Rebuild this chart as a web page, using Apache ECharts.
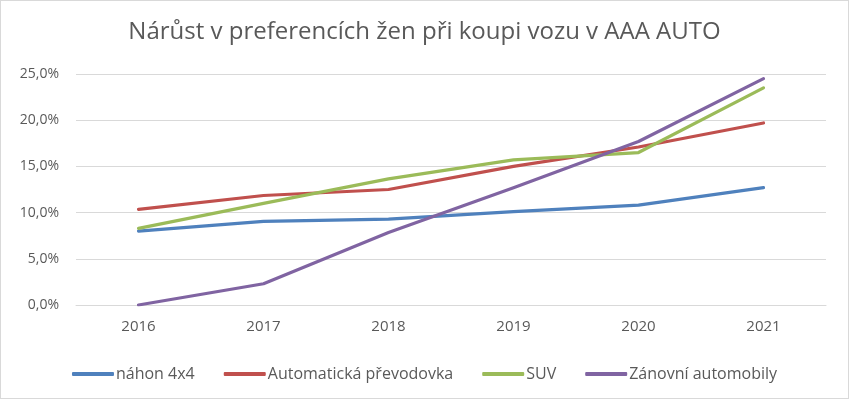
<!DOCTYPE html>
<html>
<head>
<meta charset="utf-8">
<script src="https://cdn.jsdelivr.net/npm/echarts@6/dist/echarts.min.js"></script>
<style>
  html, body { margin: 0; padding: 0; background: #fff; }
  #chart { width: 849px; height: 399px; box-sizing: border-box; border: 1px solid #d9d9d9; }
</style>
</head>
<body>
<div id="chart"></div>
<script>
const years = ['2016', '2017', '2018', '2019', '2020', '2021']
const seriesNames = ['náhon 4x4', 'Automatická převodovka', 'SUV', 'Zánovní automobily']
const nahon = [8.0, 9.05, 9.3, 10.1, 10.8, 12.7]
const automat = [10.35, 11.85, 12.5, 15.0, 17.1, 19.7]
const suv = [8.3, 11.0, 13.65, 15.7, 16.5, 23.5]
const zanovni = [0.0, 2.3, 7.85, 12.7, 17.7, 24.5]
const colors = ['#4f81bd', '#c0504d', '#9bbb59', '#8064a2']

const FONT = 'Open Sans'
const TEXT_COLOR = '#595959'

const chart = echarts.init(document.getElementById('chart'), undefined, { renderer: 'canvas' })

const dataList = [nahon, automat, suv, zanovni]

chart.setOption({
  animation: false,
  backgroundColor: '#fff',
  color: colors,
  title: {
    text: 'Nárůst v preferencích žen při koupi vozu v AAA AUTO',
    left: 'center',
    top: 14,
    textStyle: { fontFamily: FONT, fontSize: 24, fontWeight: 'normal', color: TEXT_COLOR }
  },
  legend: {
    top: 360,
    left: 'center',
    icon: 'roundRect',
    itemWidth: 42,
    itemHeight: 4,
    itemGap: 29,
    textStyle: { fontFamily: FONT, fontSize: 16, color: TEXT_COLOR, padding: [0, 0, 0, -3] },
    data: seriesNames
  },
  grid: { left: 75, right: 22, top: 73, bottom: 93 },
  xAxis: {
    type: 'category',
    data: years,
    boundaryGap: true,
    axisLine: { lineStyle: { color: '#d9d9d9' } },
    axisTick: { show: false },
    axisLabel: { fontFamily: FONT, fontSize: 15, color: TEXT_COLOR, margin: 14 }
  },
  yAxis: {
    type: 'value',
    min: 0,
    max: 25,
    interval: 5,
    axisLine: { show: false },
    axisTick: { show: false },
    axisLabel: {
      fontFamily: FONT, fontSize: 14, color: TEXT_COLOR, margin: 17,
      formatter: (v) => v.toFixed(1).replace('.', ',') + '%'
    },
    splitLine: { lineStyle: { color: '#d9d9d9', width: 1 } }
  },
  series: seriesNames.map((name, i) => ({
    name,
    type: 'line',
    data: dataList[i],
    symbol: 'none',
    lineStyle: { width: 3.2, color: colors[i], cap: 'round', join: 'round' },
    itemStyle: { color: colors[i] }
  }))
})
</script>
</body>
</html>
